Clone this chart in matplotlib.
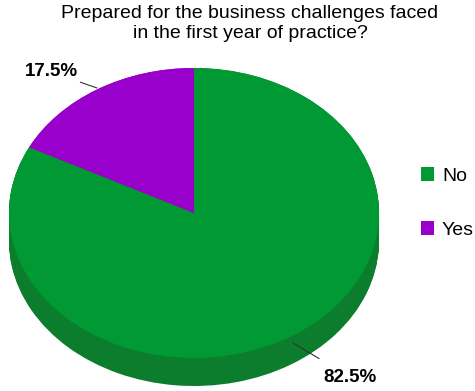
import numpy as np
import matplotlib
matplotlib.use("Agg")
import matplotlib.pyplot as plt
from matplotlib.patches import Patch

plt.rcParams['font.family'] = ['Liberation Sans', 'DejaVu Sans']

# data
labels = ["No", "Yes"]
values = [82.5, 17.5]
colors = ["#009933", "#9900cc"]
side_colors = ["#0b7d2c", "#6f0095"]
title = "Prepared for the business challenges faced\nin the first year of practice?"

W, H = 475, 391
fig = plt.figure(figsize=(W / 100, H / 100), dpi=100)

# pie geometry in pixels (top ellipse)
cx, cy, rx, ry, depth = 194, 213, 185, 145, 28
d = depth / ry
ax = fig.add_axes([(cx - rx) / W, (H - cy - ry - depth) / H, 2 * rx / W, (2 * ry + depth) / H])

# side of the pie: dark copies stacked downwards
for k in np.linspace(d, 0, 30):
    ax.pie(values, colors=side_colors, startangle=90, counterclock=False,
           center=(0, -k), radius=1, wedgeprops=dict(linewidth=0))
ax.pie(values, colors=colors, startangle=90, counterclock=False,
       radius=1, wedgeprops=dict(linewidth=0))
ax.set_aspect('auto')
ax.set_xlim(-1, 1)
ax.set_ylim(-1 - d, 1)
ax.axis('off')

def px(x, y):
    return ((x - cx) / rx, (cy - y) / ry)

# percentage labels with leader lines
ax.annotate(f"{values[1]:.1f}%", xy=px(97, 88), xytext=px(51, 72),
            ha='center', va='center', fontsize=13.5, fontweight='bold',
            arrowprops=dict(arrowstyle='-', color='#333333', lw=0.8, shrinkA=14, shrinkB=0),
            annotation_clip=False)
ax.annotate(f"{values[0]:.1f}%", xy=px(293, 343), xytext=px(350, 377),
            ha='center', va='center', fontsize=13.5, fontweight='bold',
            arrowprops=dict(arrowstyle='-', color='#333333', lw=0.8, shrinkA=10, shrinkB=0),
            annotation_clip=False)

fig.text(250 / W, 1 - 5 / H, title, ha='center', va='top', fontsize=14, linespacing=1.25)

handles = [Patch(facecolor=c, edgecolor='none') for c in colors]
fig.legend(handles, labels, loc='center left', bbox_to_anchor=(403 / W, 1 - 203 / H),
           frameon=False, labelspacing=1.9, handlelength=0.7, handleheight=0.7,
           handletextpad=0.4, fontsize=14)

fig.savefig("out.png", dpi=100)
